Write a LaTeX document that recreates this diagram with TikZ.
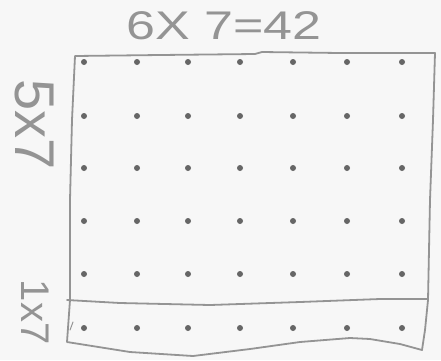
\documentclass[tikz,border=0pt]{standalone}
\usepackage{fontspec}
\setmainfont{Liberation Sans}
\begin{document}
\begin{tikzpicture}[x=1pt,y=-1pt,
  pencil/.style={draw=black!42, line width=1.8pt, line join=round, line cap=round},
  dotmark/.style={fill=black!60, draw=none},
  hand/.style={text=black!42, inner sep=0pt}]
\useasboundingbox[fill=white!97!black] (0,0) rectangle (441,360);
% outer rectangle
\draw[pencil] (75,56) -- (160,55) -- (255,54) -- (262,52) -- (340,53) -- (435,53)
  -- (433,120) -- (430,200) -- (428,300) -- (425,330) -- (422,350)
  -- (400,344) -- (370,339) -- (350,338) -- (300,342) -- (250,349) -- (193,356)
  -- (130,352) -- (67,342) -- (70,300) -- (70,200) -- (72,120) -- cycle;
% divider
\draw[pencil] (67,300) -- (120,303) -- (210,305) -- (300,302) -- (380,299) -- (428,299);
\draw[pencil, line width=1pt] (70,330) -- (73,322);
% dots
\foreach \x in {84,137,188,240,293,347,402}{
  \foreach \y in {62,116,168,221,274}{
    \fill[dotmark] (\x,\y) circle (3);
  }
  \fill[dotmark] (\x,328) circle (3);
}
% labels
\node[hand, font=\fontsize{40}{40}\selectfont, xscale=1.3] (eq) at (224,26) {6X 7=42};
\node[hand, font=\fontsize{56}{56}\selectfont, rotate=-90] (top) at (34,125) {5x7};
\node[hand, font=\fontsize{40}{40}\selectfont, rotate=-90] (bot) at (35,312) {1x7};
\end{tikzpicture}
\end{document}
